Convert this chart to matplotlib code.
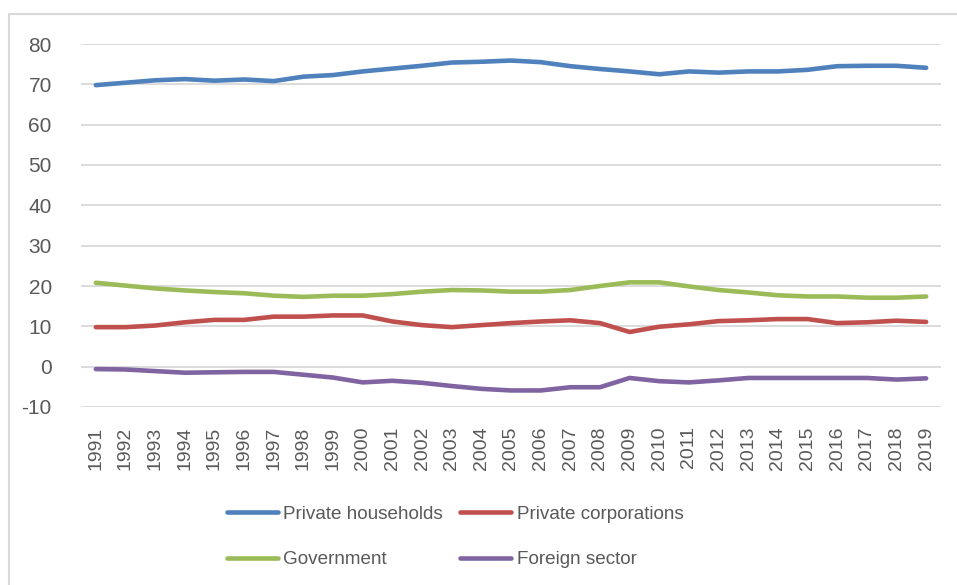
import matplotlib
matplotlib.use("Agg")
import matplotlib.pyplot as plt
from matplotlib.lines import Line2D

plt.rcParams["font.family"] = ["Liberation Sans", "DejaVu Sans"]
plt.rcParams["axes.unicode_minus"] = False

years = list(range(1991, 2020))

households = [69.8, 70.4, 71.0, 71.3, 70.9, 71.2, 70.8, 71.9, 72.3, 73.2,
              73.9, 74.6, 75.4, 75.6, 75.9, 75.5, 74.5, 73.8, 73.2, 72.5,
              73.2, 72.9, 73.2, 73.2, 73.6, 74.5, 74.6, 74.6, 74.1]
corporations = [9.8, 9.8, 10.2, 11.0, 11.6, 11.6, 12.4, 12.4, 12.7, 12.7,
                11.2, 10.3, 9.8, 10.3, 10.8, 11.2, 11.5, 10.8, 8.6, 9.9,
                10.5, 11.3, 11.5, 11.8, 11.8, 10.8, 11.0, 11.4, 11.1]
government = [20.8, 20.1, 19.4, 18.9, 18.5, 18.2, 17.6, 17.3, 17.6, 17.6,
              18.0, 18.6, 19.0, 18.9, 18.6, 18.6, 19.0, 20.0, 20.9, 20.9,
              19.9, 19.0, 18.4, 17.7, 17.4, 17.4, 17.1, 17.1, 17.4]
foreign = [-0.6, -0.7, -1.1, -1.5, -1.4, -1.3, -1.3, -2.0, -2.7, -3.9,
           -3.5, -4.0, -4.8, -5.5, -5.9, -5.9, -5.1, -5.1, -2.8, -3.6,
           -3.9, -3.4, -2.8, -2.8, -2.8, -2.8, -2.8, -3.2, -2.9]

series = [
    ("Private households", households, "#4f81bd"),
    ("Private corporations", corporations, "#c0504d"),
    ("Government", government, "#9bbb59"),
    ("Foreign sector", foreign, "#8064a2"),
]
yticks = [-10, 0, 10, 20, 30, 40, 50, 60, 70, 80]
text_color = "#595959"

fig = plt.figure(figsize=(9.57, 5.85), dpi=100)
ax = fig.add_axes([81 / 957, 1 - 407 / 585, 860 / 957, 363 / 585])

handles = []
for label, values, color in series:
    (h,) = ax.plot(years, values, color=color, lw=3.3, label=label,
                   solid_capstyle="round", solid_joinstyle="round", zorder=3)
    handles.append(h)

ax.set_xlim(years[0] - 0.5, years[-1] + 0.5)
ax.set_ylim(-10, 80)
ax.set_yticks(yticks)
ax.set_xticks(years)
ax.set_xticklabels([str(y) for y in years], rotation=90)
ax.grid(axis="y", color="#d9d9d9", lw=1.3, zorder=0)
for s in ax.spines.values():
    s.set_visible(False)
ax.tick_params(axis="y", length=0, pad=21, labelsize=15, labelcolor=text_color)
ax.tick_params(axis="x", length=0, pad=14, labelsize=14, labelcolor=text_color)

# legend fills column-wise, so reorder to get the row-wise Excel layout
order = [0, 2, 1, 3]
leg = fig.legend(handles=[handles[i] for i in order], ncol=2, loc="center",
                 bbox_to_anchor=(455 / 957, 1 - 537 / 585), frameon=False,
                 fontsize=13.6, handlelength=2.7, handletextpad=0.3,
                 columnspacing=0.9, labelspacing=1.5)
for t in leg.get_texts():
    t.set_color(text_color)

# chart area border (only top and left are inside the picture)
fig.add_artist(Line2D([9 / 957, 9 / 957, 1.0], [0.0, 1 - 14 / 585, 1 - 14 / 585],
                      transform=fig.transFigure, color="#d9d9d9", lw=1.5))

fig.savefig("out.png", dpi=100)
